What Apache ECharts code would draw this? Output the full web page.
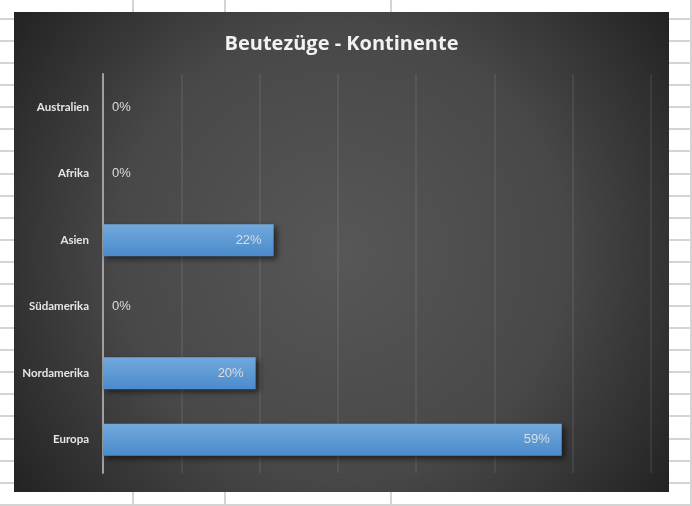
<!DOCTYPE html>
<html>
<head>
<meta charset="utf-8">
<script src="https://cdn.jsdelivr.net/npm/echarts@6/dist/echarts.min.js"></script>
<style>
  html, body { margin: 0; padding: 0; width: 692px; height: 506px; overflow: hidden; background: #fff; }
  #sheet { position: absolute; left: 0; top: 0; width: 692px; height: 506px; }
  .hl { position: absolute; left: 0; width: 692px; height: 2px; background: #d4d4d4; }
  .vl { position: absolute; top: 0; width: 2px; height: 506px; background: #d4d4d4; }
  #chart { position: absolute; left: 14px; top: 12px; width: 655px; height: 480px; }
</style>
</head>
<body>
<div id="sheet"></div>
<div id="chart"></div>
<script>
const titleText = 'Beutezüge - Kontinente';
const categories = ['Australien', 'Afrika', 'Asien', 'Südamerika', 'Nordamerika', 'Europa'];
const values = [0, 0, 21.8, 0, 19.5, 58.6];
const axisMax = 70;
const axisInterval = 10;

// spreadsheet background lines
const sheet = document.getElementById('sheet');
for (let y = 18; y < 506; y += 22.08) {
  const d = document.createElement('div');
  d.className = 'hl'; d.style.top = Math.round(y) + 'px'; sheet.appendChild(d);
}
[132, 224, 390, 690].forEach(x => {
  const d = document.createElement('div');
  d.className = 'vl'; d.style.left = x + 'px'; sheet.appendChild(d);
});

const chart = echarts.init(document.getElementById('chart'));
const barData = values.map(v => ({
  value: v,
  label: v === 0
    ? { show: true, position: 'right', distance: 9 }
    : { show: true, position: 'insideRight', distance: 12 }
}));

chart.setOption({
  backgroundColor: {
    type: 'radial', x: 0.5, y: 0.5, r: 0.85,
    colorStops: [
      { offset: 0, color: '#575757' },
      { offset: 0.55, color: '#484848' },
      { offset: 1, color: '#222222' }
    ]
  },
  title: {
    text: titleText,
    left: 'center',
    top: 17,
    textStyle: { color: '#f2f2f2', fontSize: 20, fontWeight: 'bold', fontFamily: 'Open Sans' }
  },
  grid: { left: 89, right: 18, top: 62, bottom: 19, containLabel: false },
  xAxis: {
    type: 'value',
    min: 0, max: axisMax, interval: axisInterval,
    axisLabel: { show: false },
    axisLine: { show: false },
    axisTick: { show: false },
    splitLine: { show: true, lineStyle: { color: 'rgba(255,255,255,0.07)', width: 2 } }
  },
  yAxis: {
    type: 'category',
    data: categories,
    inverse: true,
    axisLine: { show: true, lineStyle: { color: '#a0a0a0', width: 2 } },
    axisTick: { show: false },
    axisLabel: { color: '#e6e6e6', fontSize: 11.5, fontWeight: 'bold', margin: 14, fontFamily: 'Lato' }
  },
  series: [{
    type: 'bar',
    data: barData,
    barWidth: 32,
    itemStyle: {
      color: {
        type: 'linear', x: 0, y: 0, x2: 0, y2: 1,
        colorStops: [
          { offset: 0, color: '#72a9dd' },
          { offset: 1, color: '#4a8bcb' }
        ]
      },
      shadowColor: 'rgba(0,0,0,0.55)',
      shadowBlur: 6,
      shadowOffsetX: 3,
      shadowOffsetY: 3
    },
    label: {
      color: '#dcdcdc',
      fontSize: 13,
      fontFamily: 'Liberation Sans',
      formatter: p => Math.round(p.value) + '%'
    }
  }]
});
</script>
</body>
</html>
